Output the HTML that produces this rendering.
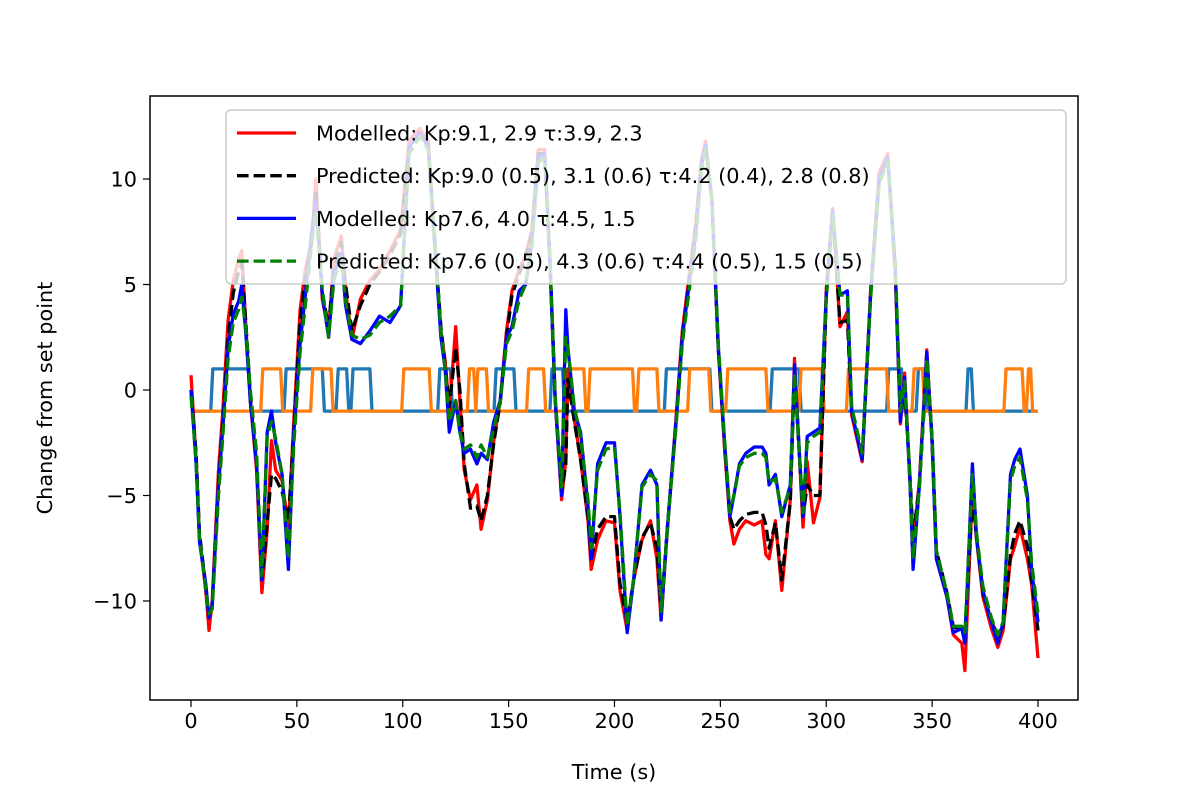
<!DOCTYPE html>
<html><head><meta charset="utf-8"><style>
html,body{margin:0;padding:0;background:#fff;}
svg text{font-family:"DejaVu Sans","Liberation Sans",sans-serif;font-size:20.8px;fill:#000;}
</style></head><body>
<svg id="chart" width="1200" height="800" viewBox="0 0 1200 800" xmlns="http://www.w3.org/2000/svg">
<rect width="1200" height="800" fill="#fff"/>
<defs><clipPath id="plotclip"><rect x="150" y="96" width="928" height="604"/></clipPath></defs>
<g id="squares" clip-path="url(#plotclip)"></g>
<g id="series" clip-path="url(#plotclip)"></g>
<rect x="150" y="96" width="928" height="604" fill="none" stroke="#000" stroke-width="1.5"/>
<g id="xticks"></g>
<g id="yticks"></g>
<text x="614" y="779" text-anchor="middle">Time (s)</text>
<text transform="translate(52,398) rotate(-90)" text-anchor="middle">Change from set point</text>
<g id="legend">
<rect x="226" y="110" width="840" height="174" rx="5" fill="#fff" fill-opacity="0.8" stroke="#ccc" stroke-width="1.5"/>
</g>
</svg>
<script>
const T=[0,2.4,4,7,8.5,10,13,15,17.5,20,22.5,24,26,28,31,33.5,36,38,40,43,46,48.6,51.5,54,57,59,62,65,67.5,71,73,76,80,84.5,89,94,99,103,108,112,116,118,120,122,125,127,129,132,135,137,140,143,146,149,151.6,155,158,161,164,167,169.5,172,175,177,178,181,184,187.5,189,192,196,200,202.6,206,209,213,217,220,222,225,229,232,235.6,238.5,241,243,246,249,252,254.5,256.4,259,262,266,269.7,271.5,273,276,279,283,285,289,291,294,297,300,303,306.5,310,312,317,321,325,329,332.5,335,337,339.5,341,344,347.5,350,352,357,360,364,365.5,369,371,374,378,381,383.5,387,389,391.5,395,397,400];
const modelled1=[0.7,-3.3,-7,-9.5,-11.4,-10,-3.8,-1,3.3,5.2,6.2,6.6,2.8,-0.5,-3.8,-9.6,-6.6,-2.4,-3.8,-4.3,-6.5,-1.4,3.8,5.7,7.1,10,4.3,2.8,6.2,7.3,4.7,2.4,4.3,5.2,5.7,6.6,7.6,11.8,12.4,11.8,5.7,2.8,1.4,-1,3,-0.5,-3.8,-5.2,-4.5,-6.6,-5.2,-2.4,-0.5,2.8,4.7,5.7,6.4,7.6,11.4,11.4,6.2,-0.5,-5.2,-3.3,1,-1.4,-3.3,-6.2,-8.5,-7.1,-6.2,-6.3,-9.5,-11.4,-9,-7.1,-6.2,-8,-10.9,-6.6,-1.4,2.8,5.7,8,10.9,11.8,9,1.9,-2.8,-6.2,-7.3,-6.6,-6.2,-6.4,-6.2,-7.8,-8,-6.2,-9.5,-5.2,1.5,-6.5,-3.4,-6.3,-5.1,4.8,8.6,3,3.7,-1.2,-3.4,4.8,10.3,11.2,5.7,-1.6,0.8,-4.3,-7.4,-4.3,1.9,-2.5,-8,-9.8,-11.6,-12,-13.3,-4.7,-7.1,-9.8,-11.3,-12.2,-11.4,-8,-7.4,-6.5,-8,-9.2,-12.7];
const predicted1=[0,-3,-6.8,-9.3,-10.8,-10.2,-4.5,-1.5,2.5,4.6,5.6,6,3,-0.2,-3.5,-9,-6.3,-4,-4.2,-4.8,-6.2,-1.8,3.3,5.3,7,9.5,4.6,3,5.8,7,5,2.8,4,5,5.6,6.4,7.4,11.5,12.2,11.6,5.8,3,1.2,-0.8,2,0,-3.5,-5.6,-5.5,-6.2,-5,-2.5,-0.6,2.5,4.5,5.5,6.3,7.4,11.2,11.2,6.3,-0.4,-4.9,-3.5,0.5,-1.5,-3.3,-6,-8,-6.6,-6,-6,-9.2,-11,-9,-7,-6.3,-7.5,-10.5,-6.5,-1.6,2.5,5.5,7.8,10.6,11.6,9,2,-2.6,-6,-6.6,-6.2,-5.9,-5.8,-5.8,-6.4,-7.5,-6.3,-9,-5.3,0.8,-6,-4.5,-5,-5,4.5,8.4,3.2,3.3,-1,-3.2,4.6,10,11,5.8,-1.2,0,-4,-7,-4.5,1.2,-2.2,-7.6,-9.6,-11.2,-11.4,-11.6,-5.2,-7,-9.6,-11,-11.6,-11.2,-7.8,-6.8,-6.2,-7.4,-9,-11.4];
const modelled2=[0,-3.5,-7.2,-9.2,-10.8,-10.2,-4.5,-1.8,2,3.6,4.2,5,2.5,-0.5,-3.5,-9,-2,-1,-2.5,-4,-8.5,-2,2.2,4.5,7.5,9,4.5,2.5,5.5,6.5,4,2.4,2.2,2.8,3.5,3.2,4,11.5,12.2,11.5,5.5,2.5,1,-2,-0.5,-2,-3,-2.8,-3.5,-3,-3.3,-1.5,-0.5,2.5,3,4.7,5,7,11,11.2,6,-0.5,-5,3.8,2,-1,-2,-5.5,-8,-3.5,-2.5,-2.5,-6,-11.5,-9,-4.5,-3.8,-4.5,-10.9,-6.5,-1.6,2.5,5.3,7.5,10.6,11.6,9,2,-2.5,-6,-5,-3.5,-3,-2.7,-2.7,-3,-4.5,-4,-6,-4.5,1.2,-6,-2.2,-2,-1.8,4.5,8.5,4.5,4.7,-1,-3.3,4.6,10,11,6,-1.5,0.6,-4.3,-8.5,-4.5,1.8,-2.5,-8,-9.8,-11.5,-11.3,-12,-3.5,-7,-9.5,-11,-12,-11,-4,-3.3,-2.8,-5,-8.5,-11];
const predicted2=[-0.3,-3.3,-7,-9.5,-10.6,-10.4,-5,-2.2,1.5,3.2,3.8,4.4,2.8,0,-3,-8.8,-2.2,-1.5,-2.3,-4,-8,-2.5,1.8,4,7,8.5,4.8,2.5,5.2,6.3,4.2,2.6,2.4,2.6,3.2,3.5,4,11.2,12,11.4,5.8,2.8,1,-1.5,-0.5,-2,-2.8,-2.6,-3.2,-2.6,-3.2,-1.8,-0.6,2.2,2.8,4.3,5,6.8,10.8,11,6.2,-0.3,-4.6,2.5,2,-0.8,-2.2,-5.2,-7.5,-3.8,-2.8,-2.7,-5.8,-11.2,-9,-4.6,-4,-4.3,-10.5,-6.6,-1.8,2.2,5,7.2,10.4,11.4,9,2.2,-2.4,-5.8,-5,-3.6,-3.2,-3,-3,-3.2,-4.4,-4.2,-5.8,-4.6,0.8,-5.8,-2.5,-2.2,-2,4.3,8.3,4.5,4.5,-0.8,-3,4.4,9.8,10.8,6.2,-1,0.4,-4,-8,-4.6,1.5,-2.3,-7.6,-9.6,-11.2,-11.2,-11.5,-4,-6.8,-9.3,-10.8,-11.6,-11,-4.3,-3.6,-3.2,-5.2,-8.2,-10.6];
const signalAHigh=[[9.8,27.8],[44.4,62.5],[69,74],[76,85],[117,123],[143.6,153],[170,176],[224,245.5],[274,287.6],[329,336],[343,347],[366.5,369]];
const signalBHigh=[[33.4,42.8],[57,66.6],[100,113],[131,134],[135,140],[159,167],[178,186],[188,209],[211,220.5],[235,245],[253,272],[287.6,298.5],[310,329],[341,346],[384.4,393],[395,397]];
const xTicks=[0,50,100,150,200,250,300,350,400];
const yTicks=[-10,-5,0,5,10];
const legendLabels=["Modelled: Kp:9.1, 2.9 τ:3.9, 2.3","Predicted: Kp:9.0 (0.5), 3.1 (0.6) τ:4.2 (0.4), 2.8 (0.8)","Modelled: Kp7.6, 4.0 τ:4.5, 1.5","Predicted: Kp7.6 (0.5), 4.3 (0.6) τ:4.4 (0.5), 1.5 (0.5)"];

const NS="http://www.w3.org/2000/svg";
const X=t=>191+(t-0)*(1038-191)/400;
const Y=v=>390-v*(601-179)/20;
function mk(tag,parent){const e=document.createElementNS(NS,tag);parent.appendChild(e);return e;}
function sqPoints(high){
  const pts=[[0,-1]];
  high.forEach(([a,b])=>{pts.push([a-0.5,-1],[a+0.5,1],[b-0.5,1],[b+0.5,-1]);});
  pts.push([400,-1]);
  return pts.map(p=>X(p[0]).toFixed(1)+","+Y(p[1]).toFixed(1)).join(" ");
}
const sq=document.getElementById('squares');
const sa=mk('polyline',sq);


sa.setAttribute('points',sqPoints(signalAHigh));
sa.setAttribute('fill','none');sa.setAttribute('stroke','#1f77b4');sa.setAttribute('stroke-width','3.3');sa.setAttribute('stroke-linejoin','round');
const sb=mk('polyline',sq);


sb.setAttribute('points',sqPoints(signalBHigh));
sb.setAttribute('fill','none');sb.setAttribute('stroke','#ff7f0e');sb.setAttribute('stroke-width','3.3');sb.setAttribute('stroke-linejoin','round');

const seriesDefs=[[modelled1,'#ff0000',null,'modelled-1-line'],[predicted1,'#000000','11.6,5','predicted-1-line'],[modelled2,'#0000ff',null,'modelled-2-line'],[predicted2,'#008000','11.6,5','predicted-2-line']];
const sg=document.getElementById('series');
seriesDefs.forEach(([vals,col,dash,name])=>{
  const p=mk('polyline',sg);
  
  
  p.setAttribute('points',T.map((t,i)=>X(t).toFixed(1)+","+Y(vals[i]).toFixed(1)).join(" "));
  p.setAttribute('fill','none');p.setAttribute('stroke',col);p.setAttribute('stroke-width','3.3');
  p.setAttribute('stroke-linejoin','round');
  if(dash)p.setAttribute('stroke-dasharray',dash);
});

const xg=document.getElementById('xticks');
xTicks.forEach(v=>{
  const l=mk('line',xg);
  
  
  l.setAttribute('x1',X(v));l.setAttribute('x2',X(v));l.setAttribute('y1',700);l.setAttribute('y2',707);l.setAttribute('stroke','#000');l.setAttribute('stroke-width','1.2');
  const tx=mk('text',xg);
  
  
  tx.setAttribute('x',X(v));tx.setAttribute('y',728);tx.setAttribute('text-anchor','middle');tx.textContent=v;
});
const yg=document.getElementById('yticks');
yTicks.forEach(v=>{
  const l=mk('line',yg);
  
  
  l.setAttribute('x1',143);l.setAttribute('x2',150);l.setAttribute('y1',Y(v));l.setAttribute('y2',Y(v));l.setAttribute('stroke','#000');l.setAttribute('stroke-width','1.2');
  const tx=mk('text',yg);
  
  
  tx.setAttribute('x',137);tx.setAttribute('y',Y(v)+7.5);tx.setAttribute('text-anchor','end');
  tx.textContent=v<0?'\u2212'+Math.abs(v):String(v);
});

const lg=document.getElementById('legend');
legendLabels.forEach((lab,i)=>{
  const cy=133+i*42.7;
  const d=seriesDefs[i];
  const l=mk('line',lg);
  
  
  l.setAttribute('x1',237);l.setAttribute('x2',296);l.setAttribute('y1',cy);l.setAttribute('y2',cy);
  l.setAttribute('stroke',d[1]);l.setAttribute('stroke-width','3.3');
  if(d[2])l.setAttribute('stroke-dasharray',d[2]);
  const tx=mk('text',lg);
  
  
  tx.setAttribute('x',316);tx.setAttribute('y',cy+7.5);tx.textContent=lab;
});
</script>
</body></html>
